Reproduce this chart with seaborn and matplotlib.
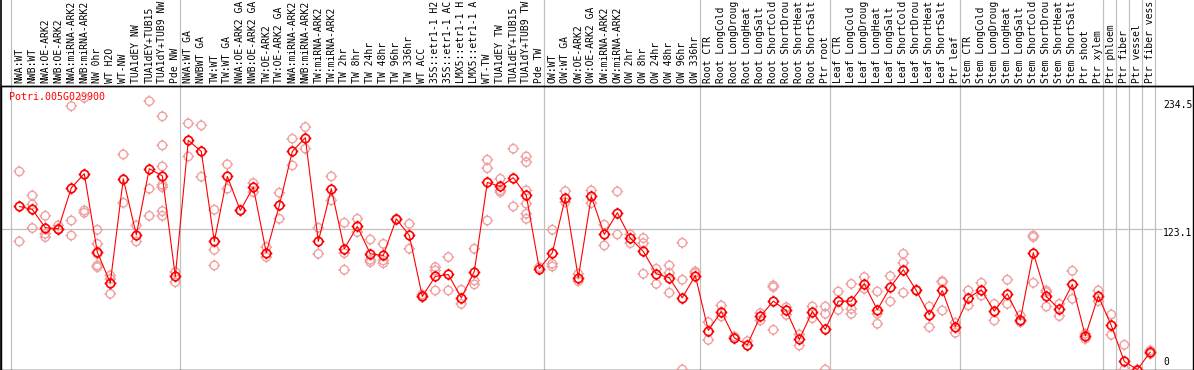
# ================================
# IMPORTS
# ================================
import numpy as np
import pandas as pd
import matplotlib
matplotlib.use("Agg")
import matplotlib.pyplot as plt
import matplotlib.transforms as mtransforms
from matplotlib.path import Path
import seaborn as sns


# ================================
# DATA
# ================================
GENE_ID = "Potri.005G029900"

# sample names as printed (the chart cuts them at 14 characters)
sample_labels = [
    # NW
    "NWA:WT", "NWB:WT", "NWA:OE-ARK2", "NWB:OE-ARK2", "NWA:miRNA-ARK2",
    "NWB:miRNA-ARK2", "NW 0hr", "WT H2O", "WT-NW", "TUA1dEY NW",
    "TUA1dEY+TUB15", "TUA1dY+TUB9 NW", "Pde NW",
    # TW
    "NWA:WT GA", "NWBWT GA", "TW:WT", "TW:WT GA", "NWA:OE-ARK2 GA",
    "NWB:OE-ARK2 GA", "TW:OE-ARK2", "TW:OE-ARK2 GA", "NWA:miRNA-ARK2",
    "NWB:miRNA-ARK2", "TW:miRNA-ARK2", "TW:miRNA-ARK2", "TW 2hr",
    "TW 8hr", "TW 24hr", "TW 48hr", "TW 96hr", "TW 336hr", "WT ACC",
    "35S::etr1-1 H2", "35S::etr1-1 AC", "LMX5::etr1-1 H",
    "LMX5::etr1-1 A", "WT-TW", "TUA1dEY TW", "TUA1dEY+TUB15",
    "TUA1dY+TUB9 TW", "Pde TW",
    # OW
    "OW:WT", "OW:WT GA", "OW:OE-ARK2", "OW:OE-ARK2 GA", "OW:miRNA-ARK2",
    "OW:miRNA-ARK2", "OW 2hr", "OW 8hr", "OW 24hr", "OW 48hr", "OW 96hr",
    "OW 336hr",
    # root
    "Root CTR", "Root LongCold", "Root LongDroug", "Root LongHeat",
    "Root LongSalt", "Root ShortCold", "Root ShortDrou", "Root ShortHeat",
    "Root ShortSalt", "Ptr root",
    # leaf
    "Leaf CTR", "Leaf LongCold", "Leaf LongDroug", "Leaf LongHeat",
    "Leaf LongSalt", "Leaf ShortCold", "Leaf ShortDrou", "Leaf ShortHeat",
    "Leaf ShortSalt", "Ptr leaf",
    # stem
    "Stem CTR", "Stem LongCold", "Stem LongDroug", "Stem LongHeat",
    "Stem LongSalt", "Stem ShortCold", "Stem ShortDrou", "Stem ShortHeat",
    "Stem ShortSalt", "Ptr shoot", "Ptr xylem",
    # cell types
    "Ptr phloem", "Ptr fiber", "Ptr vessel", "Ptr fiber vess",
]

# first sample of each group (group separators)
group_starts = [0, 13, 41, 53, 63, 73, 84, 85, 86, 87]

mean_expr = [
    142.6, 140.0, 124.0, 123.1, 158.9, 171.2, 102.7, 75.8, 166.8, 117.8,
    175.6, 169.4, 81.4,
    200.4, 190.7, 112.0, 168.9, 139.1, 159.5, 102.1, 143.5, 190.7, 202.7,
    112.0, 158.1, 105.6, 125.1, 101.2, 99.7, 131.8, 117.2, 63.9, 81.4,
    83.1, 62.7, 85.7, 163.6, 160.1, 167.7, 152.2, 88.1,
    102.1, 150.2, 80.2, 151.4, 118.1, 137.1, 114.9, 103.2, 83.7, 80.2,
    62.7, 82.2,
    34.1, 50.7, 27.7, 21.6, 46.4, 59.8, 51.6, 26.3, 50.7, 35.0,
    59.8, 59.8, 74.9, 52.2, 72.0, 87.2, 69.1, 47.8, 69.1, 37.6,
    62.7, 69.7, 51.0, 66.2, 43.5, 102.1, 63.9, 52.5, 74.4, 29.2, 64.2,
    38.5, 7.0, 0.0, 15.2,
]

replicate_expr = [
    [173.2, 112.0], [152.2, 144.4, 123.7], [134.4, 118.7, 115.8],
    [126.0, 123.1], [230.4, 130.3, 117.2], [237.7, 139.1, 137.1],
    [122.2, 109.9, 101.2, 91.0, 89.5], [82.2, 79.3, 66.2], [188.1, 145.8],
    [126.0, 112.0], [234.7, 158.1, 134.4],
    [221.4, 196.0, 177.6, 161.6, 159.5, 138.5, 134.4], [85.2, 76.4],
    [215.2, 186.3], [213.5, 168.6], [139.7, 104.7, 91.0], [179.4, 158.1],
    [139.1], [163.0, 155.2], [107.0, 98.3], [154.6, 131.8], [201.8, 178.5],
    [212.0, 193.1], [124.0, 101.2], [168.9, 147.9], [128.3, 101.8, 87.2],
    [131.8, 120.2], [113.7, 95.9, 93.9], [109.9, 95.4, 93.0], [131.8],
    [127.4, 105.6], [65.6, 63.3], [89.5, 86.6, 69.1], [98.3, 69.1],
    [69.7, 57.4], [105.6, 77.9, 74.4], [183.4, 176.1, 130.3],
    [166.8, 156.6, 155.2], [193.1, 142.6],
    [186.3, 181.4, 156.6, 145.0, 136.2, 131.8], [89.5],
    [122.2, 92.5, 90.1], [156.0, 146.4], [83.7, 77.3], [156.6, 145.5],
    [126.6, 108.5], [155.7, 118.1], [118.1, 110.5], [114.9, 110.5, 83.7],
    [88.1, 74.9], [91.0, 84.3, 67.1], [110.8, 78.5, 0.0], [85.7, 84.3],
    [41.4, 25.9], [56.0, 46.4], [28.9], [24.8], [49.3, 42.9],
    [73.5, 72.0, 34.7], [54.5, 47.8], [30.6, 21.0], [55.1, 44.9],
    [55.1, 48.7, 0.0],
    [68.2, 52.2], [74.9, 53.1, 48.7], [80.8, 70.6], [68.2, 48.7, 40.0],
    [81.7, 59.5], [101.2, 93.3, 67.1], [69.7], [55.1, 37.0],
    [77.3, 76.4, 51.6], [40.8, 32.1],
    [69.1, 56.0], [75.8, 64.7], [57.4, 42.9], [78.5, 57.4], [47.3, 41.4],
    [117.2, 115.8, 75.8], [69.1, 67.7, 55.1], [57.4, 46.7], [86.3, 61.8],
    [31.2, 26.8], [69.1, 59.8],
    [48.1, 30.3], [21.6, 0.0], [0.0], [16.6, 13.7],
]

y_tick_values = [234.5, 123.1, 0]
y_tick_labels = ["234.5", "123.1", "0"]


# ================================
# STYLE
# ================================
RED = "#ff0000"
PINK = "#f0a0a0"
GRID = "#c0c0c0"
FONT = "DejaVu Sans Mono"
FS = 7.0
MARKER_PT = 8.4


def ring_marker():
    # circle with four small ticks sticking out
    circle = Path.unit_circle()
    ticks = Path(
        [(1.0, 0), (1.4, 0), (-1.0, 0), (-1.4, 0),
         (0, 1.0), (0, 1.4), (0, -1.0), (0, -1.4)],
        [Path.MOVETO, Path.LINETO] * 4,
    )
    return Path.make_compound_path(circle, ticks)


# ================================
# PLOT
# ================================
def main():
    sns.set_style("white")
    plt.rcParams["font.family"] = [FONT, "DejaVu Sans"]

    n = len(sample_labels)
    mean_df = pd.DataFrame({"idx": np.arange(n), "expr": mean_expr})
    rep_df = pd.DataFrame(
        [(i, v) for i, reps in enumerate(replicate_expr) for v in reps],
        columns=["idx", "expr"],
    )

    W, H = 1194, 370
    top_px, bot_px, left_px, right_px = 85.7, 369.5, 1.0, 1193.0
    fig = plt.figure(figsize=(W / 100, H / 100), dpi=100)
    ax = fig.add_axes([left_px / W, (H - bot_px) / H,
                       (right_px - left_px) / W, (bot_px - top_px) / H])

    step, x0 = 13.0, 19.3  # pixels per sample, pixel of first sample
    ax.set_xlim((left_px - x0) / step, (right_px - x0) / step)
    ax.set_ylim(0, 248.2)

    marker = ring_marker()

    # replicates
    sns.scatterplot(data=rep_df, x="idx", y="expr", ax=ax, marker=marker,
                    s=MARKER_PT ** 2, facecolor="none", edgecolor=PINK,
                    linewidth=1.0, legend=False, zorder=3)

    # means + line
    sns.lineplot(data=mean_df, x="idx", y="expr", ax=ax, sort=False,
                 estimator=None, color=RED, linewidth=0.8, marker=marker,
                 markersize=MARKER_PT, markerfacecolor="none",
                 markeredgecolor=RED, markeredgewidth=1.2, zorder=4)

    # group separators running up through the label strip
    ext = 1 + top_px / (bot_px - top_px)
    for k in group_starts + [n]:
        ax.axvline(k - 0.65, ymin=0, ymax=ext, color=GRID, lw=0.9,
                   clip_on=False, zorder=1)
    ax.axvline(ax.get_xlim()[0], ymin=0, ymax=ext, color="black", lw=1.2,
               clip_on=False, zorder=5)
    ax.plot([0, 1], [1, 1], transform=ax.transAxes, color="black", lw=1.0,
            clip_on=False, zorder=5)

    # middle reference line
    ax.hlines(y_tick_values[1], ax.get_xlim()[0], 87.9, color=GRID,
              lw=0.9, zorder=1)

    # right side value labels
    trans = mtransforms.blended_transform_factory(ax.transAxes, ax.transData)
    for v, lab in zip(y_tick_values, y_tick_labels):
        if v == 0:
            ax.text(0.975, 2.5, lab, transform=trans, va="bottom", ha="left",
                    fontsize=FS, color="black")
        else:
            ax.text(0.975, v + 1.0, lab, transform=trans, va="top",
                    ha="left", fontsize=FS, color="black")

    # sample labels (vertical, above the plot)
    label_trans = mtransforms.blended_transform_factory(ax.transData,
                                                        ax.transAxes)
    y_lab = 1 + (top_px - 83.0) / (bot_px - top_px)
    for i, lab in enumerate(sample_labels):
        ax.text(i, y_lab, lab, transform=label_trans, rotation=90,
                ha="center", va="bottom", fontsize=FS, color="black",
                clip_on=False)

    # gene id
    ax.text(8.0 / (right_px - left_px), 0.978, GENE_ID,
            transform=ax.transAxes, va="top", ha="left", fontsize=FS + 0.2,
            color=RED, zorder=2)

    ax.set_xlabel("")
    ax.set_ylabel("")
    ax.set_xticks([])
    ax.set_yticks([])
    for side in ["top", "bottom", "left", "right"]:
        ax.spines[side].set_color("black")
        ax.spines[side].set_linewidth(1.0)

    fig.savefig("out.png", dpi=100)
    plt.close(fig)


if __name__ == "__main__":
    main()
